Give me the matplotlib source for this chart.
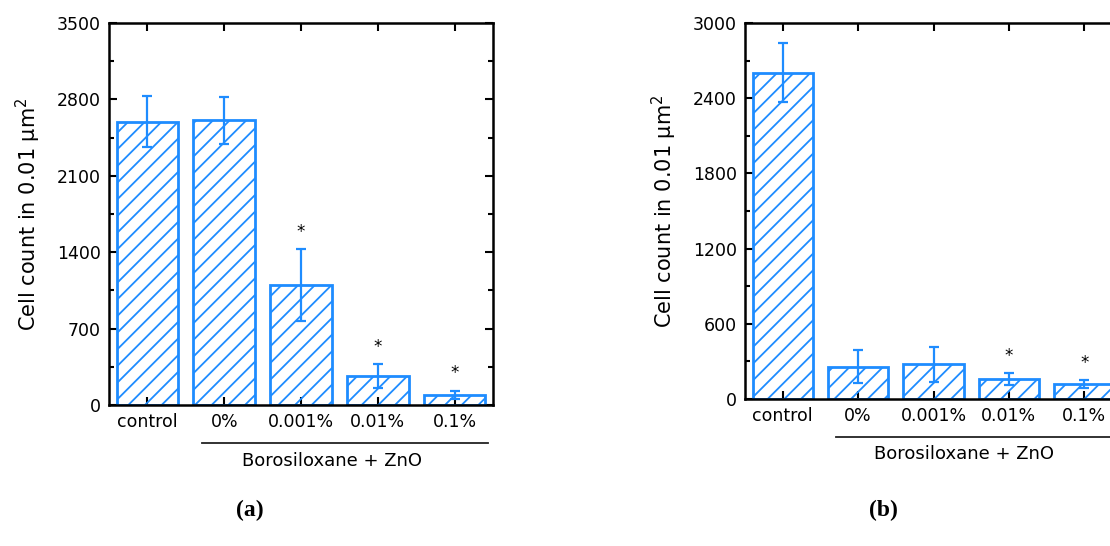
import numpy as np
import matplotlib
matplotlib.use('Agg')
from matplotlib import pyplot as plt
from matplotlib.ticker import MultipleLocator
import matplotlib.transforms as mtransforms

# data
categories = ['control', '0%', '0.001%', '0.01%', '0.1%']

counts_a = [2596, 2611, 1097, 266, 92]
err_a = [235, 215, 330, 107, 40]
stars_a = [False, False, True, True, True]

counts_b = [2603, 258, 277, 160, 120]
err_b = [235, 133, 141, 47, 31]
stars_b = [False, False, False, True, True]

blue = '#1e8cff'
plt.rcParams['font.family'] = ['DejaVu Sans']
plt.rcParams['hatch.linewidth'] = 1.3
plt.rcParams['hatch.color'] = blue

fig = plt.figure(figsize=(11.1, 5.46), dpi=100)


def panel(rect, counts, err, stars, ymax, ystep, letter):
    ax = fig.add_axes(rect)
    x = np.arange(len(categories))
    ax.bar(x, counts, width=0.8, color='none', edgecolor=blue, linewidth=2,
           hatch='//', zorder=2)
    ax.errorbar(x, counts, yerr=err, fmt='none', ecolor=blue, elinewidth=1.6,
                capsize=3.5, capthick=1.6, zorder=3)
    for xi, c, e, s in zip(x, counts, err, stars):
        if s:
            ax.annotate('*', (xi, c + e), xytext=(0, 6), textcoords='offset points',
                        ha='center', va='bottom', fontsize=12)
    ax.set_xlim(-0.5, len(categories) - 0.5)
    ax.set_ylim(0, ymax)
    ax.set_xticks(x)
    ax.set_xticklabels(categories, fontsize=12.5)
    ax.yaxis.set_major_locator(MultipleLocator(ystep))
    ax.yaxis.set_minor_locator(MultipleLocator(ystep / 2))
    ax.tick_params(axis='both', which='major', direction='in', length=6, width=1.5,
                   labelsize=12.5, top=True, right=True, pad=6)
    ax.tick_params(axis='y', which='minor', direction='in', length=3.5, width=1.5,
                   right=True)
    for sp in ax.spines.values():
        sp.set_linewidth(1.8)
    ax.set_ylabel('Cell count in 0.01 μm$^2$', fontsize=15, labelpad=10)

    # bracket under the treated groups
    trans = mtransforms.blended_transform_factory(ax.transData, ax.transAxes)
    ax.plot([0.71, 4.43], [-0.1, -0.1], color='#222222', lw=1.3, transform=trans,
            clip_on=False)
    ax.text(2.4, -0.147, 'Borosiloxane + ZnO', transform=trans, ha='center',
            va='center', fontsize=13)
    # panel letter
    trans_fig = mtransforms.blended_transform_factory(ax.transData, fig.transFigure)
    ax.text(1.33, 0.066, '(' + letter + ')', transform=trans_fig, ha='center',
            va='center', fontsize=17, family='Liberation Serif', fontweight='bold')
    return ax


panel([0.0982, 0.2582, 0.346, 0.6996], counts_a, err_a, stars_a, 3500, 700, 'a')
panel([0.6712, 0.2692, 0.3396, 0.6886], counts_b, err_b, stars_b, 3000, 600, 'b')

fig.savefig('out.png', dpi=100)
